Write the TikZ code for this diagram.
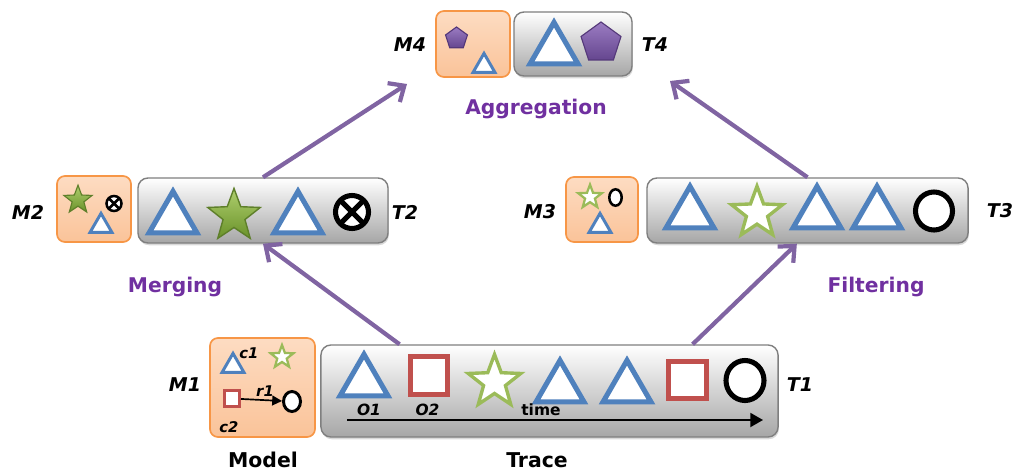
\documentclass[tikz,border=0pt]{standalone}
\usepackage{fontspec}
\setmainfont{DejaVu Sans}
\usetikzlibrary{shapes.geometric,arrows.meta,shadows,calc}

\definecolor{triblue}{HTML}{4F81BD}
\definecolor{sqred}{HTML}{C0504D}
\definecolor{stargreen}{HTML}{9BBB59}
\definecolor{startop}{HTML}{AFCF6E}
\definecolor{starbot}{HTML}{6A922A}
\definecolor{stardark}{HTML}{5E7F2A}
\definecolor{pentatop}{HTML}{9B7CC2}
\definecolor{pentabot}{HTML}{65468F}
\definecolor{pentadark}{HTML}{55397A}
\definecolor{arrowpurple}{HTML}{8064A2}
\definecolor{textpurple}{HTML}{7030A0}
\definecolor{modeltop}{HTML}{FDDCC2}
\definecolor{modelbot}{HTML}{FAC399}
\definecolor{modelline}{HTML}{F79646}
\definecolor{traceline}{HTML}{7F7F7F}
\definecolor{tracebot}{HTML}{A6A6A6}

\tikzset{
  modelbox/.style={draw=modelline, line width=1.2pt, rounded corners=0.2cm,
    top color=modeltop, bottom color=modelbot, inner sep=0pt},
  tracebox/.style={draw=traceline, line width=1pt, rounded corners=0.25cm,
    top color=white, bottom color=tracebot, inner sep=0pt,
    drop shadow={opacity=0.3, shadow xshift=0.6pt, shadow yshift=-1.6pt}},
  bigtri/.style={regular polygon, regular polygon sides=3, draw=triblue, fill=white,
    line width=3.6pt, inner sep=0pt, minimum size=1.38cm},
  smalltri/.style={regular polygon, regular polygon sides=3, draw=triblue, fill=white,
    line width=2.1pt, inner sep=0pt, minimum size=0.63cm},
  bigsq/.style={rectangle, draw=sqred, fill=white, line width=3.6pt, inner sep=0pt,
    minimum size=0.93cm},
  smallsq/.style={rectangle, draw=sqred, fill=white, line width=2pt, inner sep=0pt,
    minimum size=0.38cm},
  openstar/.style={star, star points=5, star point ratio=2.4, draw=stargreen, fill=white,
    line width=#1, inner sep=0pt},
  fullstar/.style={star, star points=5, star point ratio=2.4, draw=stardark,
    top color=startop, bottom color=starbot, line width=#1, inner sep=0pt},
  penta/.style={regular polygon, regular polygon sides=5, draw=pentadark,
    top color=pentatop, bottom color=pentabot, line width=0.8pt, inner sep=0pt},
  ring/.style={ellipse, draw=black, fill=white, line width=#1, inner sep=0pt},
  oxring/.style={circle, draw=black, fill=white, line width=#1, inner sep=0pt, outer sep=0pt},
  mlabel/.style={font=\fontsize{13.5}{15}\selectfont\bfseries\itshape},
  caption/.style={font=\fontsize{14.5}{17}\selectfont\bfseries},
  oplabel/.style={font=\fontsize{14.4}{17}\selectfont\bfseries, text=textpurple},
  olabel/.style={font=\fontsize{11}{13}\selectfont\bfseries\itshape, inner sep=0pt},
  clabel/.style={font=\fontsize{10.5}{12}\selectfont\bfseries\itshape, inner sep=0pt},
  flow/.style={draw=arrowpurple, line width=3pt,
    -{Straight Barb[length=9pt, width=16pt]}}
}

\begin{document}
\begin{tikzpicture}  % ------ Model and trace reductions --------------
      [x={(0.025cm,0cm)},y={(0cm,-0.025cm)}]
    \useasboundingbox (0,0) rectangle (1012,473);

    % ------ boxes ------
    \node[modelbox, minimum width=2.625cm, minimum height=2.475cm] (M1) at (262.5,387.5) {};
    \node[tracebox, minimum width=11.425cm, minimum height=2.3cm] (T1) at (549.5,391) {};
    \node[modelbox, minimum width=1.85cm, minimum height=1.65cm] (M2) at (94,209) {};
    \node[tracebox, minimum width=6.25cm, minimum height=1.625cm] (T2) at (263,210.5) {};
    \node[modelbox, minimum width=1.8cm, minimum height=1.625cm] (M3) at (602,209.5) {};
    \node[tracebox, minimum width=8.025cm, minimum height=1.625cm] (T3) at (807.5,210.5) {};
    \node[modelbox, minimum width=1.85cm, minimum height=1.65cm] (M4) at (473,44) {};
    \node[tracebox, minimum width=2.95cm, minimum height=1.6cm] (T4) at (573,44) {};

    % ------ M1 ------
    \node[smalltri] (m1a) at (233,366) {};
    \node[openstar=1.6pt, minimum size=0.6cm] (m1b) at (282,357) {};
    \node[smallsq] (m1c) at (232,398.5) {};
    \node[ring=2.1pt, minimum width=0.425cm, minimum height=0.5cm] (m1d) at (292,401.5) {};
    \draw[line width=1.2pt, -{Triangle[length=7pt, width=7pt]}] (m1c) -- (m1d);
    \node[clabel] (c1) at (249,353) {c1};
    \node[clabel] (r1) at (265,391) {r1};
    \node[clabel] (c2) at (229,427) {c2};

    % ------ T1 ------
    \node[bigtri] (t1a) at (364,382) {};
    \node[bigsq] (t1b) at (429,375.5) {};
    \node[openstar=2.4pt, minimum size=1.38cm] (t1c) at (494.5,382) {};
    \node[bigtri] (t1d) at (560,388) {};
    \node[bigtri] (t1e) at (627,388) {};
    \node[bigsq] (t1f) at (687.5,380) {};
    \node[ring=3.6pt, minimum width=0.95cm, minimum height=1cm] (t1g) at (745,380.5) {};
    \node[olabel] (o1) at (369,410) {O1};
    \node[olabel] (o2) at (427.5,410) {O2};
    \node[olabel, font=\fontsize{11}{13}\selectfont\bfseries] (time) at (541,410) {time};
    \coordinate (tstart) at (347,420);
    \coordinate (tend) at (763,420);
    \draw[line width=1.2pt, -{Triangle[length=9pt, width=10pt]}] (tstart) -- (tend);

    % ------ M2 / T2 ------
    \node[fullstar=0.8pt, minimum size=0.74cm] (m2a) at (78,200) {};
    \node[oxring=1.8pt, minimum size=0.375cm] (m2b) at (114,203.5) {};
    \draw[line width=1.8pt] (m2b.45) -- (m2b.225) (m2b.135) -- (m2b.315);
    \node[smalltri] (m2c) at (101,226) {};
    \node[bigtri] (t2a) at (173,219) {};
    \node[fullstar=1pt, minimum size=1.38cm] (t2b) at (234,216) {};
    \node[bigtri] (t2c) at (298,219) {};
    \node[oxring=3.6pt, minimum size=0.825cm] (t2d) at (352,212) {};
    \draw[line width=3.6pt] (t2d.45) -- (t2d.225) (t2d.135) -- (t2d.315);

    % ------ M3 / T3 ------
    \node[openstar=1.6pt, minimum size=0.62cm] (m3a) at (590,197) {};
    \node[ring=1.8pt, minimum width=0.31cm, minimum height=0.41cm] (m3b) at (615.5,197.5) {};
    \node[smalltri] (m3c) at (600,226) {};
    \node[bigtri] (t3a) at (690,214) {};
    \node[openstar=2.4pt, minimum size=1.34cm] (t3b) at (757,213) {};
    \node[bigtri] (t3c) at (817,214) {};
    \node[bigtri] (t3d) at (877,214) {};
    \node[ring=3.6pt, minimum width=0.925cm, minimum height=0.95cm] (t3e) at (934,211) {};

    % ------ M4 / T4 ------
    \node[penta, minimum size=0.575cm] (m4a) at (456.5,38.5) {};
    \node[smalltri] (m4b) at (484,66) {};
    \node[bigtri] (t4a) at (554,50) {};
    \node[penta, minimum size=1.05cm] (t4b) at (601,43) {};

    % ------ labels ------
    \node[mlabel] (M1lab) at (185,385) {M1};
    \node[mlabel] (T1lab) at (800,385) {T1};
    \node[mlabel] (M2lab) at (28,212) {M2};
    \node[mlabel] (T2lab) at (405,212) {T2};
    \node[mlabel] (M3lab) at (540,212) {M3};
    \node[mlabel] (T3lab) at (1000,211) {T3};
    \node[mlabel] (M4lab) at (410,45) {M4};
    \node[mlabel] (T4lab) at (655,45) {T4};
    \node[caption] (model) at (263,460) {Model};
    \node[caption] (trace) at (537,460) {Trace};
    \node[oplabel] (merging) at (175,287) {Merging};
    \node[oplabel] (filtering) at (876,287) {Filtering};
    \node[oplabel] (aggregation) at (536,109) {Aggregation};

    % ------ arrows ------
    \coordinate (aggL) at (407,84);
    \coordinate (aggR) at (670,81);
    \draw[flow] ($(T1.north west)!0.173!(T1.north east)$) -- (T2.south);
    \draw[flow] ($(T1.north west)!0.812!(T1.north east)$) -- ($(T3.south west)!0.467!(T3.south east)$);
    \draw[flow] (T2.north) -- (aggL);
    \draw[flow] (T3.north) -- (aggR);
\end{tikzpicture}
\end{document}
